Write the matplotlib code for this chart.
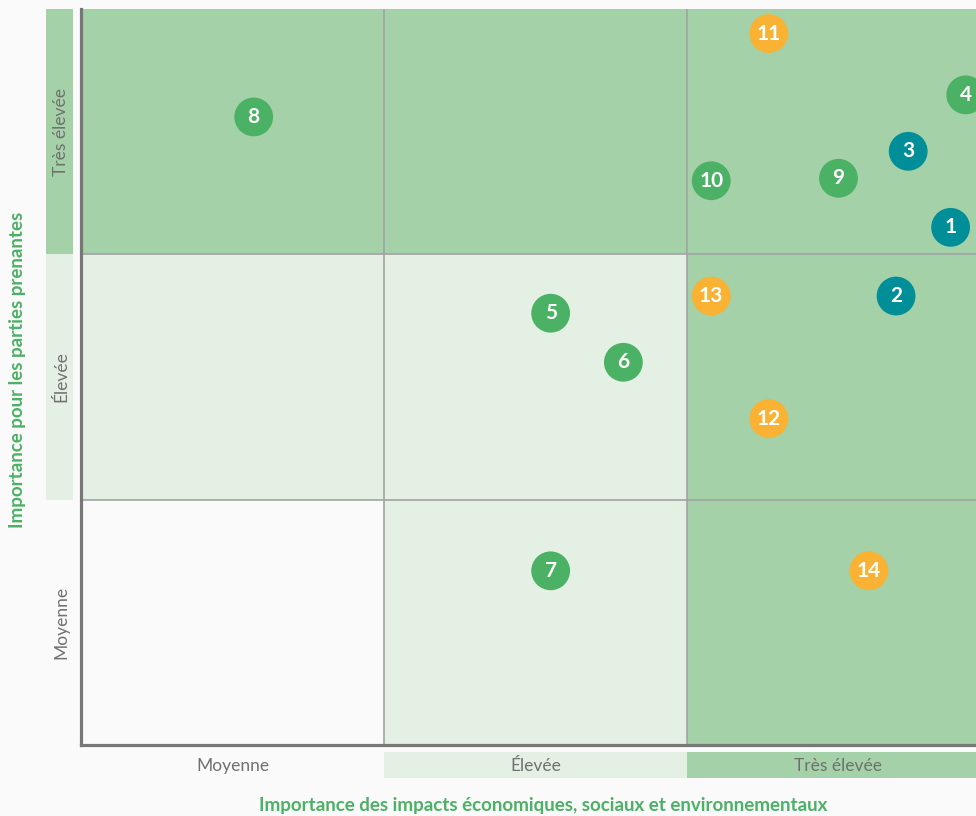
import matplotlib.pyplot as plt
from matplotlib.patches import Rectangle

# impact importance (x) and stakeholder importance (y), 0-3 scale, 1 unit per level
ids = ['1', '2', '3', '4', '5', '6', '7', '8', '9', '10', '11', '12', '13', '14']
impact = [2.87, 2.69, 2.73, 2.92, 1.55, 1.79, 1.55, 0.57, 2.50, 2.08, 2.27, 2.27, 2.08, 2.60]
stakeholder = [2.11, 1.83, 2.42, 2.65, 1.76, 1.56, 0.71, 2.56, 2.31, 2.30, 2.90, 1.33, 1.83, 0.71]
groups = ['teal', 'teal', 'teal', 'green', 'green', 'green', 'green', 'green',
          'green', 'green', 'orange', 'orange', 'orange', 'orange']
levels = ['Moyenne', 'Élevée', 'Très élevée']

group_colors = {'teal': '#008e98', 'green': '#4bb165', 'orange': '#f9b233'}
dark = '#a4d1a7'
light = '#e3f0e3'
bg = '#fafafa'
title_green = '#4bb165'

fig = plt.figure(figsize=(9.76, 8.16), dpi=100, facecolor=bg)
ax = fig.add_axes([81 / 976, 71 / 816, 895 / 976, 736 / 816])
ax.set_facecolor(bg)
ax.set_xlim(0, 895 / 303)
ax.set_ylim(0, 3)

# cell shading: level index of x + y
for i in range(3):
    for j in range(3):
        if i == 2 or j == 2:
            c = dark
        elif i + j >= 1:
            c = light
        else:
            c = bg
        ax.add_patch(Rectangle((i, j), 1, 1, facecolor=c, edgecolor='none', zorder=0))

for k in (1, 2):
    ax.axvline(k, color='#a3a3a3', lw=1.2, zorder=1)
    ax.axhline(k, color='#a3a3a3', lw=1.2, zorder=1)

for s in ('top', 'right'):
    ax.spines[s].set_visible(False)
for s in ('left', 'bottom'):
    ax.spines[s].set_color('#777777')
    ax.spines[s].set_linewidth(2.3)
ax.set_xticks([])
ax.set_yticks([])

# level boxes along the axes
box_cols = [None, light, dark]
for k in range(3):
    if box_cols[k]:
        ax.add_patch(Rectangle((k, -0.1345), 1, 0.106, facecolor=box_cols[k],
                               edgecolor='none', clip_on=False))
        ax.add_patch(Rectangle((-0.1155, k), 0.089, 1, facecolor=box_cols[k],
                               edgecolor='none', clip_on=False))
    ax.text(k + 0.5, -0.0856, levels[k], ha='center', va='center', fontsize=12.5,
            color='#707070', family='Lato', clip_on=False)
    ax.text(-0.066, k + 0.5, levels[k], ha='center', va='center', fontsize=12.5,
            color='#707070', family='Lato', rotation=90, clip_on=False)

ax.scatter(impact, stakeholder, s=780, c=[group_colors[g] for g in groups],
           edgecolors='none', zorder=3)
for x, y, t in zip(impact, stakeholder, ids):
    ax.text(x, y, t, ha='center', va='center', color='white', fontsize=15,
            fontweight='bold', family='Lato', zorder=4, clip_on=True)

fig.text(543 / 976, 1 - 805 / 816, 'Importance des impacts économiques, sociaux et environnementaux',
         ha='center', va='center', fontsize=13.5, fontweight='bold', color=title_green, family='Lato')
fig.text(18 / 976, 1 - 370 / 816, 'Importance pour les parties prenantes',
         ha='center', va='center', fontsize=13.5, fontweight='bold', color=title_green,
         family='Lato', rotation=90)

fig.savefig('out.png', dpi=100, facecolor=bg)
